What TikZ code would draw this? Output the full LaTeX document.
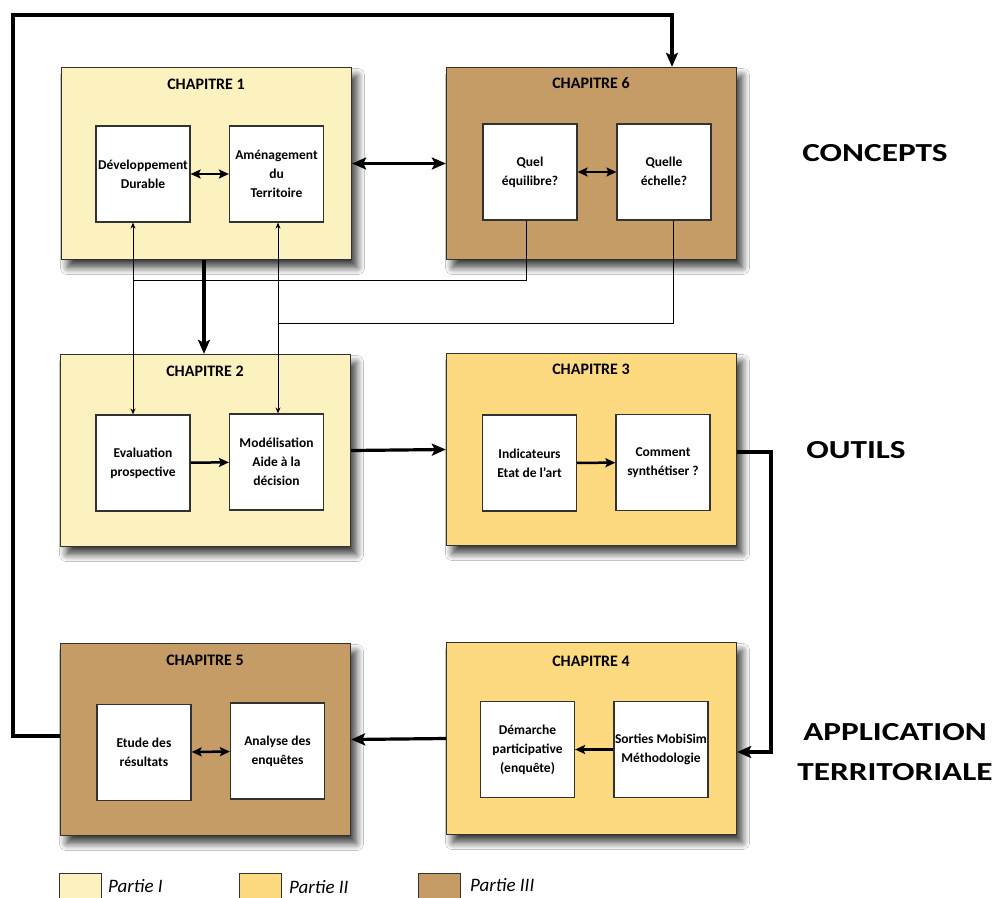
\documentclass[tikz,border=0pt]{standalone}
\usepackage{fontspec}
\setmainfont{Carlito}
\usetikzlibrary{arrows.meta,shadows.blur}
\definecolor{pI}{RGB}{252,242,192}
\definecolor{pII}{RGB}{253,217,128}
\definecolor{pIII}{RGB}{198,156,102}
\definecolor{edge}{RGB}{50,50,50}
\newcommand{\widetext}[1]{\scalebox{1.28}[1]{#1}}
\tikzset{
  chap/.style={draw=edge,line width=1.3pt,minimum width=290pt,minimum height=192pt,inner sep=0pt,
    blur shadow={shadow xshift=6pt,shadow yshift=-8pt,shadow blur radius=7pt,shadow blur steps=10,shadow opacity=75}},
  inbox/.style={draw=edge,fill=white,line width=1.2pt,minimum width=94pt,minimum height=96pt,inner sep=0pt,
    align=center,font=\fontsize{13.5}{19}\selectfont\bfseries},
  ctitle/.style={font=\fontsize{16}{18}\selectfont\bfseries,inner sep=0pt},
  bigarrow/.style={line width=3.2pt,-{Stealth[length=14pt,width=12pt,inset=3pt]}},
  bigdouble/.style={line width=3.2pt,{Stealth[length=14pt,width=12pt,inset=3pt]}-{Stealth[length=14pt,width=12pt,inset=3pt]}},
  inarrow/.style={line width=2.5pt,-{Stealth[length=10pt,width=9pt,inset=2pt]}},
  indouble/.style={line width=2.5pt,{Stealth[length=10pt,width=9pt,inset=2pt]}-{Stealth[length=10pt,width=9pt,inset=2pt]}},
  thindouble/.style={line width=0.9pt,{Stealth[length=6pt,width=5pt]}-{Stealth[length=6pt,width=5pt]}},
  thinline/.style={line width=0.9pt},
  section/.style={font=\fontsize{26}{40}\selectfont\bfseries,align=center,inner sep=0pt},
  legbox/.style={draw=edge,line width=1pt},
  legtext/.style={font=\fontsize{19}{20}\selectfont\itshape,anchor=west,inner sep=0pt}
}
\begin{document}
\begin{tikzpicture}[x=1pt,y=-1pt]
\useasboundingbox (0,0) rectangle (995,897);
\clip (0,0) rectangle (995,897);
\fill[white] (0,0) rectangle (995,897);

% chapter boxes
\node[chap,fill=pI]   (ch1) at (206.5,163.5) {};
\node[chap,fill=pIII] (ch6) at (591.5,163.5) {};
\node[chap,fill=pI]   (ch2) at (205.5,450.5) {};
\node[chap,fill=pII]  (ch3) at (591.5,449.5) {};
\node[chap,fill=pIII] (ch5) at (205.5,739.5) {};
\node[chap,fill=pII]  (ch4) at (591.5,738.5) {};

\node[ctitle] (t1) at (206,84) {CHAPITRE 1};
\node[ctitle] (t6) at (591,83) {CHAPITRE 6};
\node[ctitle] (t2) at (205,371) {CHAPITRE 2};
\node[ctitle] (t3) at (591,369) {CHAPITRE 3};
\node[ctitle] (t5) at (205,660) {CHAPITRE 5};
\node[ctitle] (t4) at (591,661) {CHAPITRE 4};

% inner boxes
\node[inbox] (dd) at (143,174) {Développement\\Durable};
\node[inbox] (at) at (276.5,174) {Aménagement\\du\\Territoire};
\node[inbox] (quel) at (530,172) {\raisebox{6pt}{\begin{tabular}{@{}c@{}}Quel\\équilibre?\end{tabular}}};
\node[inbox] (quelle) at (664,172) {\raisebox{6pt}{\begin{tabular}{@{}c@{}}Quelle\\échelle?\end{tabular}}};
\node[inbox] (eval) at (143,463) {Evaluation\\prospective};
\node[inbox] (mod) at (276.5,462) {Modélisation\\Aide à la\\décision};
\node[inbox] (ind) at (529.5,463) {Indicateurs\\Etat de l’art};
\node[inbox] (comm) at (663,462.5) {Comment\\synthétiser ?};
\node[inbox] (etude) at (144,752.5) {Etude des\\résultats};
\node[inbox] (analyse) at (277.5,751) {Analyse des\\enquêtes};
\node[inbox] (dem) at (527.5,749.5) {Démarche\\participative\\(enquête)};
\node[inbox] (sort) at (661,749.5) {Sorties MobiSim\\Méthodologie};

% helper coordinates
\coordinate (xa) at (133,0);
\coordinate (xb) at (278,0);
\coordinate (xq) at (526,0);
\coordinate (xr) at (673,0);
\coordinate (ya) at (0,280);
\coordinate (yb) at (0,323);
\coordinate (fbL) at (13,736);
\coordinate (fbT) at (13,15);
\coordinate (fbR) at (672,15);
\coordinate (rR) at (771,452);
\coordinate (rB) at (771,752);
\coordinate (y4) at (0,752);

% inner arrows
\draw[indouble] (dd) -- (at);
\draw[indouble] (quel) -- (quelle);
\draw[inarrow] (eval) -- (mod);
\draw[inarrow] (ind) -- (comm);
\draw[inarrow] (sort) -- (dem);
\draw[indouble] (etude) -- (analyse);

% thin connectors
\draw[thindouble] (dd.south -| xa) -- (eval.north -| xa);
\draw[thindouble] (at.south -| xb) -- (mod.north -| xb);
\draw[thinline] (quel.south -| xq) -- (xq |- ya) -- (xa |- ya);
\draw[thinline] (quelle.south -| xr) -- (xr |- yb) -- (xb |- yb);

% thick connectors
\draw[bigdouble] (ch1.east) -- (ch6.west);
\draw[bigarrow] (ch1.south -| 204,0) -- (ch2.north -| 204,0);
\draw[bigarrow] (ch2.east) -- (ch3.west);
\draw[bigarrow] (ch3.east |- rR) -- (rR) -- (rB) -- (ch4.east |- y4);
\draw[bigarrow] (ch4.west) -- (ch5.east);
\draw[bigarrow] (ch5.west |- fbL) -- (fbL) -- (fbT) -- (fbR) -- (ch6.north -| fbR);

% section labels
\node[section] (concepts) at (875,153) {\widetext{CONCEPTS}};
\node[section] (outils) at (856,450) {\widetext{OUTILS}};
\node[section] (appli) at (895,752) {\widetext{APPLICATION}\\\widetext{TERRITORIALE}};

% legend
\draw[legbox,fill=pI] (59,873) rectangle (101,910);
\draw[legbox,fill=pII] (239,873) rectangle (281,910);
\draw[legbox,fill=pIII] (418,873) rectangle (460,910);
\node[legtext] (l1) at (108,886) {Partie I};
\node[legtext] (l2) at (289,887) {Partie II};
\node[legtext] (l3) at (470,885) {Partie III};
\end{tikzpicture}
\end{document}
